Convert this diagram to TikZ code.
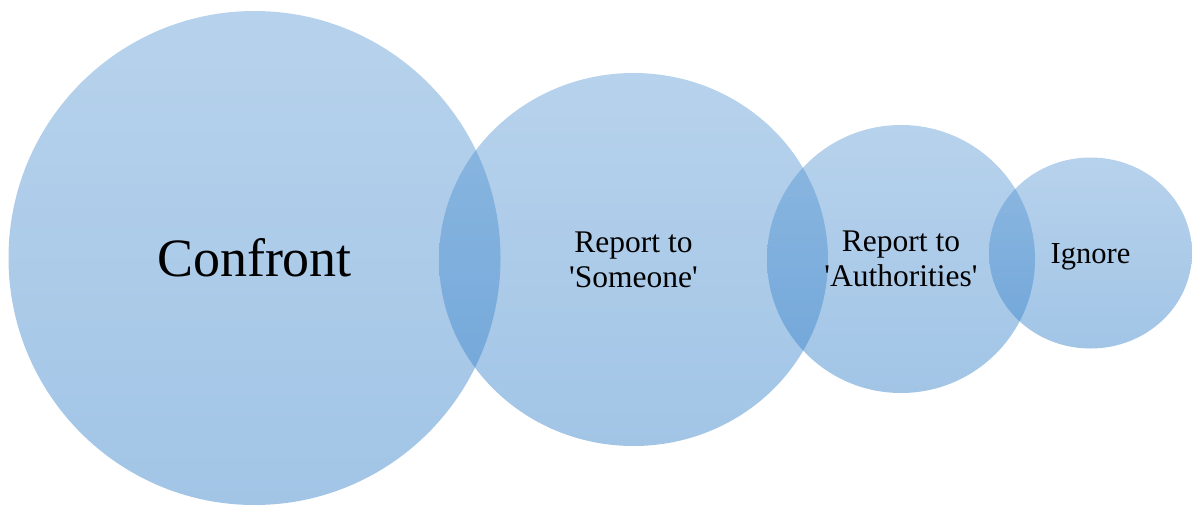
\documentclass[tikz,border=0pt]{standalone}
\usepackage{fontspec}
\setmainfont{Liberation Serif}
\usetikzlibrary{shapes.geometric}
\definecolor{bubbletop}{RGB}{95,155,213}
\definecolor{bubblebot}{RGB}{48,126,200}

\begin{document}
\begin{tikzpicture}[x=1pt,y=-1pt,bubble/.style={ellipse, inner sep=0pt, top color=bubbletop, bottom color=bubblebot, fill opacity=0.45, text opacity=1, align=center},label/.style={font=\fontsize{31.5}{35}\selectfont}]
\useasboundingbox (0,0) rectangle (1192,504);
\node[bubble, minimum width=492pt, minimum height=494pt, font=\fontsize{54}{60}\selectfont] (confront) at (254.5,258) {Confront};
\node[bubble, label, minimum width=389pt, minimum height=373pt, text depth=0pt] (someone) at (633.5,259.5) {Report to\\\textquotesingle Someone\textquotesingle};
\node[bubble, label, minimum width=268pt, minimum height=268pt, text depth=0pt] (authorities) at (901,259) {Report to\\\textquotesingle Authorities\textquotesingle};
\node[bubble, minimum width=203pt, minimum height=191pt, text height=20pt, text depth=0pt, font=\fontsize{30.5}{34}\selectfont] (ignore) at (1090.5,253) {Ignore};
\end{tikzpicture}
\end{document}
